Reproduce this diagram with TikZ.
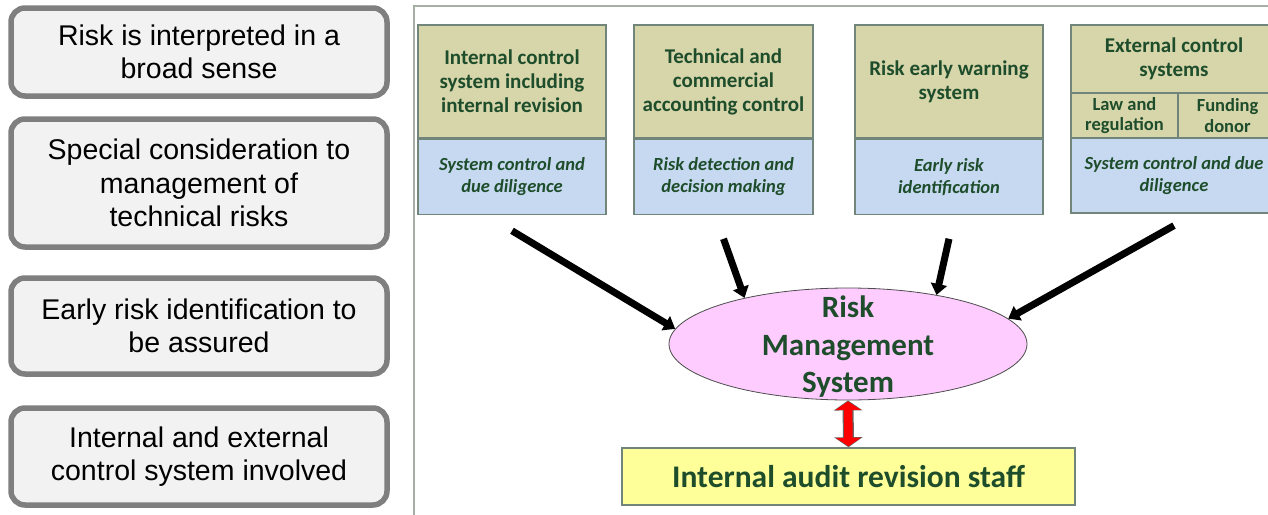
\documentclass[tikz,border=0pt]{standalone}
\usepackage{fontspec}
\setmainfont{Liberation Sans}
\newfontfamily\calibri{Carlito}
\usetikzlibrary{positioning,shapes.geometric,arrows.meta}

\definecolor{notegray}{HTML}{7F7F7F}
\definecolor{notefill}{HTML}{F2F2F2}
\definecolor{olive}{HTML}{D7D5AA}
\definecolor{paleblue}{HTML}{C6D9F1}
\definecolor{boxline}{HTML}{72857A}
\definecolor{framegray}{HTML}{A6AEA6}
\definecolor{ink}{HTML}{1E4D2B}
\definecolor{rmspink}{HTML}{FFCCFF}
\definecolor{audityellow}{HTML}{FFFF99}

\tikzstyle{note}=[draw=notegray,line width=5.5pt,rounded corners=14pt,fill=notefill,align=center,minimum width=376pt,inner sep=0pt,font=\fontsize{28.5}{33.5}\selectfont]
\tikzstyle{head}=[draw=boxline,line width=1.2pt,fill=olive,align=center,inner sep=0pt,text=ink,font=\calibri\bfseries\fontsize{21}{24}\selectfont]
\tikzstyle{sub}=[head,minimum height=45pt,font=\calibri\bfseries\fontsize{18.5}{20.5}\selectfont]
\tikzstyle{duty}=[head,fill=paleblue,minimum height=75pt,font=\calibri\bfseries\itshape\fontsize{18.5}{22}\selectfont]
\tikzstyle{feed}=[line width=7pt,-{Triangle[width=16pt,length=11pt]}]

\begin{document}
\begin{tikzpicture}[x=1pt,y=-1pt]
	\useasboundingbox (0,0) rectangle (1268,514);
	%notes
	\foreach \y/\h/\txt [count=\i] in {52/88/{Risk is interpreted in a\\broad sense},
		183/128/{Special consideration to\\management of\\technical risks},
		326/96/{Early risk identification to\\be assured},
		456.5/97/{Internal and external\\control system involved}}
	\node[note,minimum height=\h pt] (note\i) at (199,\y) {\txt};
	%frame
	\draw[draw=framegray,line width=2pt] (414,520) |- (1290,6);
	%control systems
	\node[head,minimum width=188pt,minimum height=113pt] (ics) at (512,81.5) {Internal control\\system including\\internal revision};
	\node[duty,minimum width=188pt,below=0pt of ics] (icsd) {System control and\\due diligence};
	\node[head,minimum width=179pt,minimum height=113pt] (tac) at (723.5,81.5) {Technical and\\commercial\\accounting control};
	\node[duty,minimum width=179pt,below=0pt of tac] (tacd) {Risk detection and\\decision making};
	\node[head,minimum width=188pt,minimum height=113pt] (rew) at (949,81.5) {Risk early warning\\system};
	\node[duty,minimum width=188pt,below=0pt of rew] (rewd) {Early risk\\identification};
	\node[head,minimum width=206pt,minimum height=68pt] (ext) at (1174,59) {External control\\systems};
	\node[sub,minimum width=107pt] (law) at (1124.5,115.5) {Law and\\regulation};
	\node[sub,minimum width=99pt] (fund) at (1227.5,115.5) {Funding\\donor};
	\node[duty,minimum width=206pt] (extd) at (1174,175.5) {System control and due\\diligence};
	%risk management
	\node[ellipse,draw=black!70,line width=0.8pt,fill=rmspink,minimum width=358pt,minimum height=112pt,inner sep=0pt] (rms) at (848,344) {};
	\node[align=center,inner sep=0pt,text=ink,font=\calibri\bfseries\fontsize{31}{37.5}\selectfont] (rmslabel) at ([yshift=-3pt]rms.center) {Risk\\Management\\System};
	\node[draw=boxline,line width=1.5pt,fill=audityellow,minimum width=453pt,minimum height=57pt,inner sep=0pt,text=ink,font=\calibri\bfseries\fontsize{31.5}{36}\selectfont] (audit) at (848.5,476.5) {Internal audit revision staff};
	%arrows
	\foreach \src/\gap/\ang in {icsd/16/175,tacd/24/156,rewd/24/29,extd/12/9}
	\draw[feed] ([yshift=-\gap pt]\src.south) -- (rms.\ang);
	\draw[line width=11pt,draw=black!60,{Triangle[width=28pt,length=10pt]}-{Triangle[width=28pt,length=10pt]}] (rms.south) -- (audit.north);
	\draw[line width=8.5pt,red,shorten <=1pt,shorten >=1pt,{Triangle[width=25pt,length=8.5pt]}-{Triangle[width=25pt,length=8.5pt]}] (rms.south) -- (audit.north);
\end{tikzpicture}
\end{document}
